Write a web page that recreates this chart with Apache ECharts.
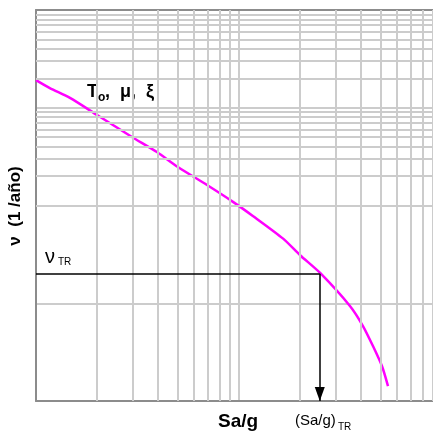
<!DOCTYPE html>
<html>
<head>
<meta charset="utf-8">
<script src="https://cdn.jsdelivr.net/npm/echarts@6/dist/echarts.min.js"></script>
<style>
  html, body { margin: 0; padding: 0; background: #fff; }
  #chart { width: 433px; height: 432px; }
</style>
</head>
<body>
<div id="chart"></div>
<script>
// curva de tasa de excedencia
const saG = [1, 1.17, 1.47, 2.0, 2.97, 3.94, 5.0, 6.96, 9.34, 11.7, 16.5, 20, 25.1, 35.2, 40.8, 45.7, 50.6, 54.2];
const nu = [0.192, 0.159, 0.126, 0.0843, 0.0502, 0.0352, 0.0248, 0.0162, 0.0109, 0.00782, 0.00458, 0.0031, 0.00204, 0.000937, 0.000585, 0.000365, 0.000228, 0.000142];

// punto de diseño
const saTR = 25;
const nuTR = 0.002;

// rejilla log (lineas secundarias)
const xMinor = [2, 3, 4, 5, 6, 7, 8, 9, 20, 30, 40, 50, 60, 70, 80, 90];
const yMinor = [];
[0.0001, 0.001, 0.01, 0.1].forEach(d => {
  [2, 3, 4, 5, 6, 7, 8, 9].forEach(m => yMinor.push(+(d * m).toPrecision(3)));
});

// el eje x queda cortado por el borde derecho (~90)
const xMin = 1, xMax = 90.3, yMin = 0.0001, yMax = 1;

const gridColor = '#cccccc';
const borderColor = '#8c8c8c';
const font = 'Liberation Sans, Arial, sans-serif';

const myChart = echarts.init(document.getElementById('chart'));

const logAxisBase = {
  type: 'log',
  logBase: 10,
  axisLabel: { show: false },
  axisTick: { show: false },
  axisLine: { show: true, lineStyle: { color: borderColor, width: 2 } },
  splitLine: { show: true, lineStyle: { color: gridColor, width: 2 } }
};

const minorLines = xMinor.map(v => ({ xAxis: v })).concat(yMinor.map(v => ({ yAxis: v })));

const chartOption = {
  animation: false,
  grid: { left: 36, top: 10, right: 0, bottom: 31 },
  xAxis: [
    Object.assign({}, logAxisBase, { min: xMin, max: xMax, position: 'bottom' }),
    Object.assign({}, logAxisBase, { min: xMin, max: xMax, position: 'top', splitLine: { show: false } })
  ],
  yAxis: Object.assign({}, logAxisBase, { min: yMin, max: yMax }),
  series: [{
    // rejilla secundaria
    name: 'grid',
    type: 'line',
    data: [],
    z: 1,
    markLine: {
      silent: true,
      symbol: 'none',
      label: { show: false },
      lineStyle: { color: gridColor, width: 2, type: 'solid' },
      data: minorLines
    }
  }, {
    name: 'TR',
    type: 'line',
    data: [],
    z: 3,
    markLine: {
      silent: true,
      label: { show: false },
      lineStyle: { color: '#000', width: 1.5, type: 'solid' },
      data: [
        [{ coord: [xMin, nuTR], symbol: 'none' }, { coord: [saTR, nuTR], symbol: 'none' }],
        [{ coord: [saTR, nuTR], symbol: 'none' }, { coord: [saTR, yMin], symbol: 'triangle', symbolSize: [10, 14], symbolOffset: [0, 7] }]
      ]
    }
  }, {
    name: 'curva',
    type: 'line',
    data: saG.map((x, i) => [x, nu[i]]),
    smooth: 0.25,
    symbol: 'none',
    z: 4,
    lineStyle: { color: '#ff00ff', width: 2.5 }
  }],
  graphic: [
    { type: 'text', left: 87, top: 83, style: { text: 'T', font: 'bold 18px ' + font, fill: '#000' } },
    { type: 'text', left: 98, top: 92, style: { text: 'o', font: 'bold 12px ' + font, fill: '#000' } },
    { type: 'text', left: 105, top: 83, style: { text: ',  μ,  ξ', font: 'bold 18px ' + font, fill: '#000' } },
    { type: 'text', x: 15, y: 206, rotation: Math.PI / 2, style: { text: 'ν  (1 /año)', font: 'bold 17px ' + font, fill: '#000', align: 'center', verticalAlign: 'middle' } },
    { type: 'text', left: 218, top: 412, style: { text: 'Sa/g', font: 'bold 19px ' + font, fill: '#000' } },
    { type: 'text', left: 295, top: 413, style: { text: '(Sa/g)', font: '15px ' + font, fill: '#000' } },
    { type: 'text', left: 338, top: 422, style: { text: 'TR', font: '10px ' + font, fill: '#000' } },
    { type: 'text', left: 45, top: 247, style: { text: 'ν', font: '20px ' + font, fill: '#000' } },
    { type: 'text', left: 58, top: 257, style: { text: 'TR', font: '10px ' + font, fill: '#000' } }
  ]
};
myChart.setOption(chartOption);
</script>
</body>
</html>
